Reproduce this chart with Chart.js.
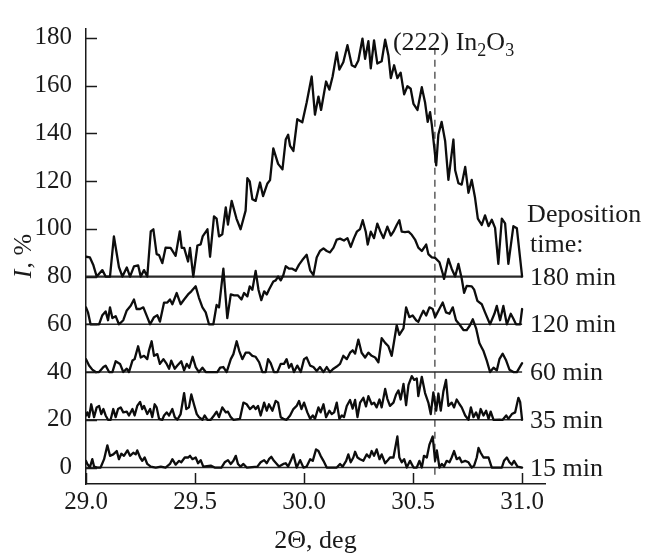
<!DOCTYPE html>
<html>
<head>
<meta charset="utf-8">
<script src="https://cdn.jsdelivr.net/npm/chart.js@4.4.1/dist/chart.umd.min.js"></script>
<style>
html,body{margin:0;padding:0;background:#fff;}
#wrap{width:647px;height:555px;position:relative;}
</style>
</head>
<body>
<div id="wrap"><canvas id="c" width="647" height="555"></canvas></div>
<script>
// ---- tick labels / categories ----
const xTicks = [29.0, 29.5, 30.0, 30.5, 31.0];
const yTicks = [0, 20, 40, 60, 80, 100, 120, 140, 160, 180];
const baselines = [0, 20, 40, 60, 80];
const seriesLabels = ['15 min', '35 min', '60 min', '120 min', '180 min'];
const legendTitle = ['Deposition', 'time:'];
const peakPosition = 30.6;
const peakLineRange = [-3, 176];
const peakLabelY = 175;
const xTitle = '2\u0398, deg';

// ---- series values (2Θ, I %) ----
const x180 = [29.0,29.018,29.034,29.049,29.075,29.09,29.11,29.128,29.151,29.167,29.187,29.202,29.22,29.239,29.251,29.266,29.281,29.297,29.309,29.324,29.335,29.35,29.365,29.388,29.411,29.43,29.439,29.45,29.468,29.477,29.492,29.511,29.526,29.535,29.557,29.569,29.587,29.599,29.61,29.625,29.641,29.651,29.668,29.69,29.709,29.732,29.74,29.751,29.763,29.778,29.798,29.812,29.832,29.844,29.859,29.881,29.901,29.916,29.927,29.936,29.951,29.969,29.992,30.012,30.035,30.05,30.066,30.078,30.101,30.116,30.131,30.15,30.162,30.18,30.199,30.219,30.234,30.249,30.268,30.28,30.295,30.306,30.321,30.336,30.356,30.372,30.387,30.398,30.413,30.428,30.443,30.459,30.474,30.489,30.502,30.52,30.54,30.555,30.567,30.578,30.586,30.606,30.616,30.631,30.647,30.662,30.685,30.693,30.708,30.723,30.739,30.754,30.769,30.784,30.797,30.815,30.83,30.846,30.861,30.876,30.891,30.907,30.922,30.937,30.96,30.976,31.0];
const y180 = [88.3,88.0,84.7,80,82.7,80,80,96.8,84.0,80,83.8,80,84.3,84.7,80,82.7,80,98.9,99.8,89.4,89.0,85.6,92.1,92.0,88.7,98.9,92.0,92.0,86.3,92.0,80,93.0,93.5,96.8,99.8,88.3,105.2,104.3,96.8,97.7,109.0,101.8,111.7,104.3,99.8,107.6,121.2,119.8,112.4,111.7,119.4,113.7,119.0,120.4,133.7,127.2,124.9,137.4,139.4,134.7,132.6,145.9,144.6,152.9,163.8,147.8,155.4,149.8,161.7,158.3,163.8,173.9,166.7,169.8,176.9,168.5,167.8,170.5,179.7,171.2,178.6,167.2,178.9,169.2,170.2,179.2,172.6,163.1,168.5,163.1,165.4,156.3,159.7,158.7,152.3,149.8,159.3,152.9,144.8,148.9,143.5,126.6,139.5,144.8,136.8,120.5,137.4,124.5,119.1,118.5,125.9,115.1,120.5,113.1,104.3,101.6,105.6,101.1,103.8,100.4,85.3,104.3,102.3,85.3,101.1,100.2,80];

const x120 = [29.0,29.009,29.021,29.06,29.075,29.09,29.101,29.11,29.121,29.136,29.151,29.171,29.187,29.205,29.22,29.232,29.248,29.263,29.281,29.294,29.312,29.327,29.339,29.358,29.373,29.385,29.396,29.416,29.434,29.45,29.468,29.483,29.503,29.518,29.534,29.549,29.564,29.584,29.599,29.61,29.63,29.648,29.664,29.679,29.697,29.713,29.725,29.74,29.751,29.763,29.778,29.791,29.804,29.817,29.829,29.839,29.859,29.87,29.881,29.893,29.905,29.916,29.931,29.946,29.962,29.977,29.992,30.012,30.028,30.043,30.058,30.073,30.089,30.104,30.119,30.135,30.15,30.165,30.183,30.199,30.214,30.229,30.242,30.257,30.269,30.283,30.292,30.306,30.321,30.336,30.349,30.364,30.382,30.398,30.41,30.425,30.437,30.448,30.463,30.479,30.494,30.509,30.524,30.54,30.56,30.57,30.586,30.601,30.621,30.636,30.642,30.662,30.677,30.693,30.708,30.723,30.734,30.746,30.769,30.78,30.795,30.815,30.83,30.853,30.873,30.884,30.899,30.914,30.93,30.948,30.96,30.972,30.991,31.0];
const y120 = [67.1,65,60,60,63.8,65.4,61.7,67.1,62.6,63.4,60,61.7,65.8,67.8,70.4,66.4,66.4,67.1,63,60,63,63.8,61.1,69.1,69.1,70.4,68.4,73.1,68.4,70.4,72.5,73.8,75.9,71.1,67.1,65,60,60,68.1,67.1,83.3,62.6,72.5,72.1,72.1,70.4,73.1,71.7,75.9,74.5,82.4,74.5,70.1,73.8,72.5,74.5,77.9,78.4,80,78.4,80.6,84.3,83.3,83.3,82.4,85,86.9,89.1,82.6,80.6,88.0,90.7,91.8,90.7,90.1,92.1,95.5,95.9,95.1,96.1,92.4,96.1,98.8,99.9,103.6,98.8,93.4,98.8,96.1,102.2,99.1,96.1,100.9,97.2,98.8,101.6,103.6,98.8,98.6,98.8,97.5,95.5,92.1,90.7,93.4,89.4,88.0,87.8,86.0,81.3,79,87.4,83.3,80,85.3,79.2,73.2,76.1,75.9,74.5,69.8,68.4,65.0,60,64.4,67.7,61.7,67.7,60,64.4,62.3,60,60,66.4];

const x60 = [29.0,29.014,29.029,29.044,29.06,29.08,29.09,29.106,29.121,29.136,29.156,29.171,29.187,29.197,29.213,29.223,29.239,29.251,29.266,29.281,29.289,29.301,29.312,29.327,29.339,29.355,29.37,29.381,29.391,29.407,29.419,29.437,29.45,29.462,29.474,29.489,29.503,29.518,29.534,29.549,29.602,29.615,29.63,29.645,29.664,29.676,29.691,29.703,29.717,29.732,29.748,29.763,29.778,29.794,29.809,29.824,29.835,29.847,29.862,29.878,29.893,29.908,29.92,29.931,29.942,29.954,29.969,29.985,30.0,30.012,30.028,30.043,30.058,30.073,30.089,30.104,30.119,30.135,30.15,30.165,30.18,30.196,30.211,30.223,30.234,30.249,30.264,30.28,30.295,30.31,30.326,30.341,30.356,30.372,30.387,30.402,30.413,30.425,30.437,30.456,30.468,30.483,30.498,30.514,30.524,30.535,30.547,30.56,30.575,30.59,30.601,30.616,30.636,30.651,30.667,30.682,30.697,30.713,30.731,30.746,30.761,30.774,30.789,30.804,30.815,30.823,30.838,30.853,30.869,30.884,30.896,30.911,30.927,30.942,30.96,30.976,31.0];
const y60 = [45.4,42.7,41.0,40,40,42.1,42.7,40,40,44.5,43.4,40,41.4,40,44.8,45.4,50.8,46.1,46.8,45.4,49.1,52.9,46.8,47.5,43.4,45.4,43.4,41.4,44.8,41.4,42.7,44.5,40.7,43.4,41.8,46.4,42.1,40,41.8,40,40,41.8,42.1,40,45.4,47.5,52.9,48.8,45.4,48.1,48.1,46.8,46.4,44.1,40,40,45.4,43.7,40,40,43.4,43.4,45.4,41.8,43.4,40,42.7,40,45.4,46.1,42.7,42.1,40.4,42.1,40,42.1,40,41.4,42.3,43.4,46.8,45.4,48.1,49.1,47.7,53.6,48.1,46.1,48.1,46.8,46.1,44.1,54.2,52.2,50.8,46.8,52.9,59.6,55.6,58.3,67.1,63.0,63.7,61.7,61.0,63.4,65.7,63.7,67.1,66.4,63.0,65.7,69.1,65.0,64.4,67.1,61.7,59.9,57.6,57.6,59.6,62.1,58.3,52.2,50.2,48.8,44.8,40,41.8,40.7,45.4,47.7,44.8,41.0,40,40,43.7];

const x35 = [29.0,29.006,29.014,29.024,29.037,29.049,29.06,29.07,29.08,29.09,29.101,29.113,29.125,29.136,29.147,29.159,29.171,29.187,29.197,29.213,29.223,29.235,29.248,29.258,29.266,29.281,29.294,29.304,29.315,29.324,29.335,29.35,29.358,29.37,29.381,29.396,29.407,29.419,29.434,29.45,29.46,29.472,29.483,29.495,29.508,29.518,29.534,29.544,29.557,29.572,29.587,29.599,29.61,29.625,29.641,29.651,29.664,29.676,29.706,29.722,29.737,29.752,29.768,29.778,29.789,29.801,29.817,29.829,29.839,29.855,29.87,29.881,29.893,29.905,29.92,29.936,29.951,29.966,29.977,29.988,30.0,30.015,30.028,30.04,30.05,30.066,30.076,30.089,30.101,30.116,30.127,30.138,30.15,30.162,30.173,30.183,30.196,30.211,30.223,30.234,30.245,30.257,30.272,30.284,30.295,30.31,30.321,30.333,30.346,30.356,30.372,30.382,30.394,30.41,30.422,30.433,30.443,30.456,30.468,30.479,30.494,30.505,30.517,30.524,30.54,30.555,30.57,30.581,30.593,30.606,30.616,30.627,30.639,30.651,30.662,30.677,30.688,30.7,30.713,30.723,30.739,30.754,30.765,30.777,30.789,30.8,30.81,30.823,30.835,30.846,30.856,30.869,30.896,30.911,30.927,30.937,30.953,30.968,30.983,30.991,31.0];
const y35 = [21.8,23.1,21.1,26.5,21.1,25.2,25.8,22.4,24.5,21.8,20,20,24.5,21.1,24.5,25.2,23.1,23.4,21.8,24.5,21.8,25.8,27.5,24.5,25.8,22.4,24.5,21.1,26.5,25.2,20.4,20,21.8,23.1,21.8,24.5,21.1,20,22.4,31.2,24.5,25.2,30.6,26.5,22.4,21.1,20,21.8,20,20,21.8,23.4,21.1,25.2,23.1,23.4,21.1,20,20.4,27.2,26.5,24.5,25.8,24.5,25.8,21.8,27.2,23.8,26.5,23.8,27.9,27.2,21.1,20.4,20,21.8,24.5,25.8,27.9,24.5,27.2,23.1,20.4,21.8,20.4,25.2,23.1,26.5,21.1,23.8,22.4,23.1,27.2,20.4,21.8,21.1,25.8,28.3,24.7,28.3,21.1,27.2,29.2,25.6,29.9,26.5,27.2,25.2,28.5,25.2,32.9,28.8,25.8,27.2,30.6,32.3,28.5,35.0,26.1,34.6,38.3,36.7,37.3,29.9,38.0,31.2,27.2,22.4,31.5,23.8,31.0,23.8,31.9,36.7,25.8,27.2,25.2,28.5,26.5,25.2,21.8,20,25.2,21.1,23.1,20.4,24.5,21.8,23.8,20.4,23.4,20,20.1,20,21.8,20.4,22.4,23.1,29.2,27.5,20];

const x15 = [29.0,29.006,29.018,29.029,29.037,29.052,29.067,29.083,29.098,29.11,29.125,29.141,29.151,29.162,29.174,29.19,29.202,29.217,29.228,29.235,29.248,29.258,29.269,29.281,29.297,29.32,29.343,29.365,29.385,29.396,29.411,29.427,29.437,29.453,29.468,29.477,29.488,29.503,29.514,29.526,29.538,29.572,29.59,29.621,29.636,29.651,29.664,29.676,29.687,29.697,29.709,29.722,29.737,29.786,29.801,29.817,29.829,29.839,29.85,29.862,29.875,29.885,29.905,29.916,29.927,29.939,29.951,29.966,29.982,29.997,30.012,30.028,30.04,30.055,30.066,30.076,30.089,30.104,30.15,30.165,30.177,30.193,30.203,30.214,30.226,30.234,30.245,30.257,30.272,30.287,30.3,30.31,30.321,30.333,30.346,30.356,30.372,30.382,30.394,30.41,30.428,30.437,30.448,30.459,30.471,30.486,30.502,30.517,30.529,30.54,30.55,30.563,30.575,30.59,30.601,30.609,30.621,30.632,30.642,30.654,30.667,30.677,30.688,30.7,30.713,30.723,30.739,30.754,30.769,30.78,30.792,30.8,30.81,30.823,30.846,30.861,30.907,30.917,30.93,30.942,30.953,30.963,30.979,31.0];
const y15 = [2.8,1.5,0.1,3.5,0.4,0,0,3.5,9.3,4.9,5.5,6.9,3.5,5.8,4.9,7.2,4.9,6.2,5.5,7.2,4.2,2.8,4.2,1.5,0.4,0,0.4,0,1.5,3.5,1.2,2.8,2.2,4.2,4.2,4.9,3.5,4.2,1.8,3.1,0.4,0.8,0,0,2.2,3.1,1.5,2.8,4.9,1.5,0.4,1.5,0,0.4,2.2,3.1,1.8,3.5,4.5,2.8,1.5,0.4,1.5,1.8,0.4,2.8,5.5,0,3.1,0,0.4,3.5,2.8,7.6,6.9,4.9,2.8,0,0,1.5,0.4,2.8,5.5,2.2,4.2,6.6,4.2,3.5,2.8,5.5,4.2,6.9,4.9,7.6,3.5,5.5,1.8,2.8,4.2,4.2,13.0,4.2,2.2,3.5,0,2.8,0,0,2.8,0,4.9,4.2,9.6,13.0,2.8,7.2,0,1.5,0.4,2.8,2.2,4.2,6.9,3.5,4.2,2.2,2.8,2.2,0,0.8,4.2,8.2,6.2,4.2,4.2,0,0,2.8,4.2,2.2,1.2,2.8,0.4,0];

// ---- build datasets ----
const FONT = '"Liberation Serif", "Times New Roman", serif';
const INK = '#1a1a1a';
const traces = [[x15, y15], [x35, y35], [x60, y60], [x120, y120], [x180, y180]];
const toPts = (xs, ys) => xs.slice(0, Math.min(xs.length, ys.length)).map((x, i) => ({x, y: ys[i]}));

const datasets = [];
traces.forEach(([xs, ys]) => datasets.push({
  data: toPts(xs, ys), borderColor: '#0d0d0d', borderWidth: 2.3, pointRadius: 0,
  tension: 0, borderJoinStyle: 'round', borderCapStyle: 'round'
}));
baselines.forEach((b, i) => datasets.push({
  data: [{x: xTicks[0], y: b}, {x: xTicks[xTicks.length - 1], y: b}],
  borderColor: '#2a2a2a', borderWidth: i === baselines.length - 1 ? 2.2 : 1.4, pointRadius: 0
}));
datasets.push({
  data: [{x: peakPosition, y: peakLineRange[0]}, {x: peakPosition, y: peakLineRange[1]}],
  borderColor: '#444', borderWidth: 1.3, borderDash: [7, 5], pointRadius: 0
});

// ---- inward tick marks ----
const tickPlugin = {
  id: 'inwardTicks',
  afterDraw(chart) {
    const {ctx, chartArea: a, scales: {x, y}} = chart;
    ctx.save();
    ctx.strokeStyle = INK; ctx.lineWidth = 1.5;
    yTicks.forEach(v => {
      const py = Math.round(y.getPixelForValue(v)) + 0.5;
      ctx.beginPath(); ctx.moveTo(a.left, py); ctx.lineTo(a.left + 11, py); ctx.stroke();
    });
    xTicks.forEach(v => {
      const px = Math.round(x.getPixelForValue(v)) + 0.5;
      ctx.beginPath(); ctx.moveTo(px, a.bottom); ctx.lineTo(px, a.bottom - 11); ctx.stroke();
    });
    ctx.restore();
  }
};

// ---- text annotations ----
const textPlugin = {
  id: 'texts',
  afterDraw(chart) {
    const {ctx, chartArea: a, scales: {x, y}} = chart;
    ctx.save();
    ctx.fillStyle = INK;
    ctx.textAlign = 'left';
    ctx.textBaseline = 'alphabetic';
    ctx.font = '26px ' + FONT;
    const lx = x.getPixelForValue(xTicks[xTicks.length - 1]) + 8;
    seriesLabels.forEach((s, i) => ctx.fillText(s, lx, y.getPixelForValue(baselines[i]) + 8));
    const topY = y.getPixelForValue(baselines[baselines.length - 1]);
    ctx.fillText(legendTitle[1], lx, topY - 25);
    ctx.fillText(legendTitle[0], lx - 3, topY - 55);

    // (222) In2O3
    let cx = x.getPixelForValue(peakPosition) - 42;
    const by = y.getPixelForValue(peakLabelY);
    const parts = [['(222) In', 26, 0], ['2', 18, 6], ['O', 26, 0], ['3', 18, 6]];
    parts.forEach(([t, s, dy]) => {
      ctx.font = s + 'px ' + FONT;
      ctx.fillText(t, cx, by + dy);
      cx += ctx.measureText(t).width;
    });

    // x title
    ctx.font = '26px ' + FONT;
    ctx.textAlign = 'center';
    ctx.fillText(xTitle, (a.left + a.right) / 2, 548);

    // y title: italic I, regular ", %"
    ctx.save();
    ctx.translate(31, (a.top + a.bottom) / 2);
    ctx.rotate(-Math.PI / 2);
    ctx.textAlign = 'left';
    ctx.font = 'italic 26px ' + FONT;
    const wI = ctx.measureText('I').width;
    ctx.font = '26px ' + FONT;
    const wR = ctx.measureText(', %').width;
    const sx = -(wI + wR) / 2;
    ctx.font = 'italic 26px ' + FONT;
    ctx.fillText('I', sx, 0);
    ctx.font = '26px ' + FONT;
    ctx.fillText(', %', sx + wI + 1, 0);
    ctx.restore();
    ctx.restore();
  }
};

new Chart(document.getElementById('c'), {
  type: 'line',
  data: {datasets},
  options: {
    responsive: false, animation: false, devicePixelRatio: 1,
    layout: {padding: {top: 15, right: 102, left: 0, bottom: 0}},
    plugins: {legend: {display: false}, tooltip: {enabled: false}},
    scales: {
      x: {
        type: 'linear', min: 29.0, max: 31.105,
        afterBuildTicks: s => { s.ticks = xTicks.map(v => ({value: v})); },
        afterFit: s => { s.height = 71; },
        grid: {display: false, drawTicks: false},
        border: {display: true, color: INK, width: 1.5},
        ticks: {font: {family: FONT, size: 25}, color: INK, padding: 3, maxRotation: 0, autoSkip: false,
                callback: v => Number(v).toFixed(1)}
      },
      y: {
        type: 'linear', min: -6.9, max: 183.7,
        afterBuildTicks: s => { s.ticks = yTicks.map(v => ({value: v})); },
        afterFit: s => { s.width = 86; },
        grid: {display: false, drawTicks: false},
        border: {display: true, color: INK, width: 1.5},
        ticks: {font: {family: FONT, size: 25}, color: INK, padding: 14, autoSkip: false,
                callback: v => String(v)}
      }
    }
  },
  plugins: [tickPlugin, textPlugin]
});
</script>
</body>
</html>
